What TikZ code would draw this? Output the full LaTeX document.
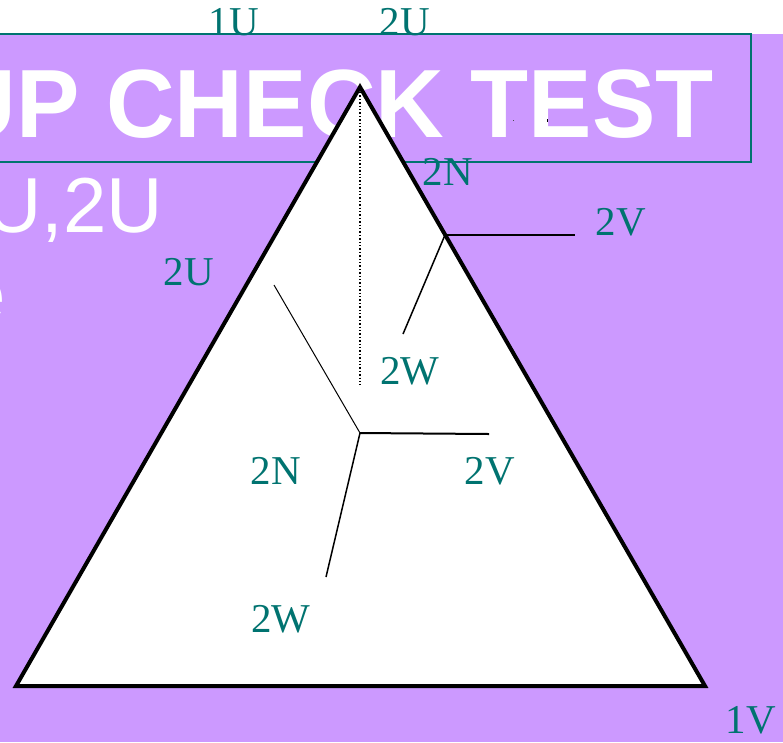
\documentclass[tikz,border=0pt]{standalone}
\usepackage{fontspec}
\setmainfont{Liberation Serif}
\newfontfamily\arialfont{Liberation Sans}
\definecolor{bgpurple}{HTML}{CC99FF}
\definecolor{tealc}{HTML}{007370}
\begin{document}
\begin{tikzpicture}[x=1pt,y=-1pt,
  lbl/.style={text=tealc,font=\fontsize{41}{41}\selectfont,inner sep=0pt},
  whitetxt/.style={text=white,inner sep=0pt,anchor=base east},
  thinwire/.style={line width=1pt},
  wire/.style={line width=2pt}]
\useasboundingbox (0,0) rectangle (783,742);
\clip (0,0) rectangle (783,742);
% background
\fill[white] (0,0) rectangle (783,742);
\fill[bgpurple] (0,34) rectangle (783,742);
% title box
\draw[tealc,line width=2pt] (-5,34) rectangle (751,162);
\node[whitetxt,font=\arialfont\bfseries\fontsize{97}{97}\selectfont,xscale=0.98] (title) at (714,137) {UP CHECK TEST};
\node[whitetxt,font=\arialfont\fontsize{78}{78}\selectfont] (line1) at (163,232) {U,2U};
\node[whitetxt,font=\arialfont\fontsize{78}{78}\selectfont] (line2) at (6,321) {e};
% tiny marks
\fill[black!70] (512.5,119.5) rectangle (514,121);
\fill[black] (546.5,119) rectangle (548,121.5);
% triangle
\coordinate (apex) at (360,87);
\coordinate (bl) at (16,686);
\coordinate (br) at (705,686);
\filldraw[fill=white,draw=black,line width=4pt,line join=miter] (apex) -- (bl) -- (br) -- cycle;
% dotted vertical
\coordinate (dtop) at (360,92);
\coordinate (dbot) at (360,385);
\draw[dotted,line width=1.4pt] (dtop) -- (dbot);
% upper junction
\coordinate (j1) at (445,235);
\coordinate (j1v) at (575,235);
\coordinate (j1w) at (403,334);
\draw[wire] (j1) -- (j1v);
\draw[line width=1.5pt] (j1) -- (j1w);
% inner star
\coordinate (c) at (360,433);
\coordinate (cv) at (489,434);
\coordinate (cw) at (326,577);
\coordinate (cn) at (274,285);
\draw[thinwire] (c) -- (cn);
\draw[wire] (c) -- (cv);
\draw[line width=1.5pt] (c) -- (cw);
% labels
\node[lbl] (l1U) at (234,22) {1U};
\node[lbl] (l2Ut) at (405,22) {2U};
\node[lbl] (l2N) at (448,172) {2N};
\node[lbl] (l2V) at (621,222) {2V};
\node[lbl] (l2U) at (189,272) {2U};
\node[lbl] (l2W) at (410,371) {2W};
\node[lbl] (l2Nb) at (276,471) {2N};
\node[lbl] (l2Vb) at (490,471) {2V};
\node[lbl] (l2Wb) at (281,619) {2W};
\node[lbl] (l1V) at (751,720) {1V};
\end{tikzpicture}
\end{document}
